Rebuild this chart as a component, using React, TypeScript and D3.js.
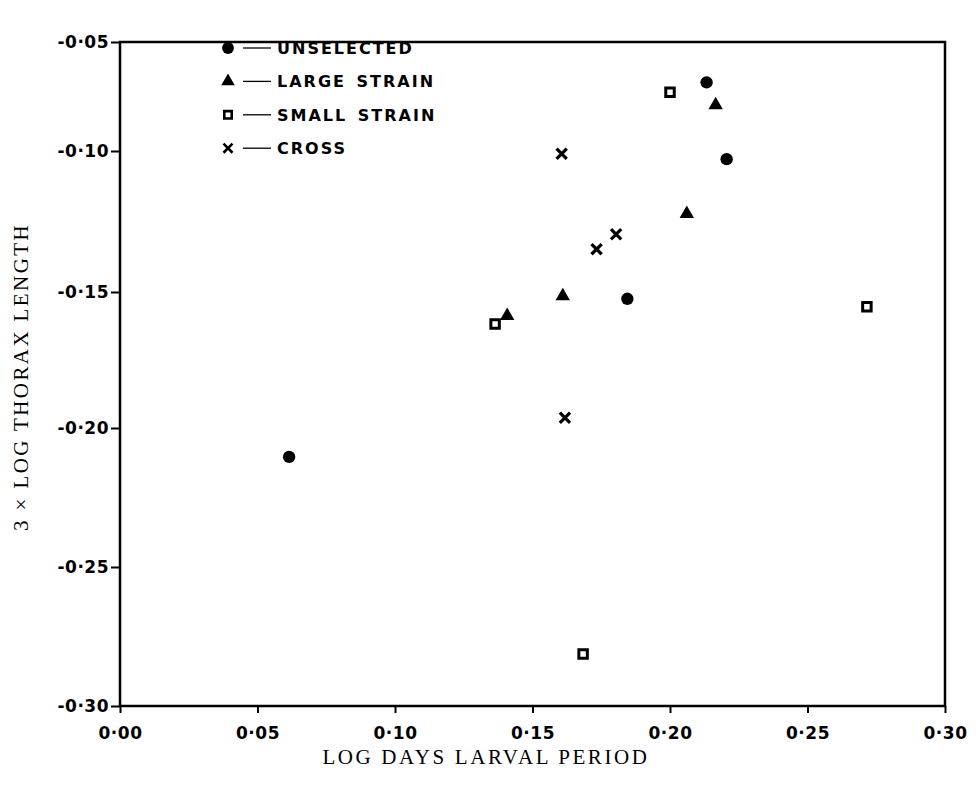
import React, { useEffect, useRef } from "react";
import * as d3 from "d3";

// values
const unselected = [
  { x: 0.2133, y: -0.0685 },
  { x: 0.2206, y: -0.1029 },
  { x: 0.1845, y: -0.1525 },
  { x: 0.0615, y: -0.2104 },
];
const largeStrain = [
  { x: 0.2166, y: -0.0789 },
  { x: 0.2061, y: -0.1223 },
  { x: 0.161, y: -0.1515 },
  { x: 0.1408, y: -0.1588 },
];
const smallStrain = [
  { x: 0.2, y: -0.0731 },
  { x: 0.1364, y: -0.1618 },
  { x: 0.2716, y: -0.1554 },
  { x: 0.1684, y: -0.2813 },
];
const cross = [
  { x: 0.1606, y: -0.101 },
  { x: 0.1804, y: -0.1295 },
  { x: 0.1733, y: -0.1348 },
  { x: 0.1618, y: -0.1962 },
];

const xTicks = [0, 0.05, 0.1, 0.15, 0.2, 0.25, 0.3];
const yTicks = [-0.3, -0.25, -0.2, -0.15, -0.1, -0.05];
const legendLabels = ["UNSELECTED", "LARGE STRAIN", "SMALL STRAIN", "CROSS"];

var width = 979;
var height = 790;
var left = 120;
var right = 945;
var top = 42;
var bottom = 706;

var tickFont = "'DejaVu Sans', sans-serif";
var titleFont = "'Liberation Serif', 'Times New Roman', serif";

const fmt = (d: number) => d.toFixed(2).replace(".", "·");

export default function App() {
  const ref = useRef<SVGSVGElement>(null);

  useEffect(() => {
    const svg = d3.select(ref.current);
    svg.selectAll("*").remove();

    const xScale = d3.scaleLinear().domain([0, 0.3]).range([left, right]);
    // the printed axis is slightly compressed in its top interval
    const yScale = d3
      .scaleLinear()
      .domain([-0.3, -0.25, -0.2, -0.15, -0.1, -0.05])
      .range([bottom, 567, 428, 292, 151, top]);

    /* frame */
    svg
      .append("rect")
      .attr("x", left)
      .attr("y", top)
      .attr("width", right - left)
      .attr("height", bottom - top)
      .attr("fill", "none")
      .attr("stroke", "#000")
      .attr("stroke-width", 2.5);

    /* axes */
    const xAxis = d3
      .axisBottom(xScale)
      .tickValues(xTicks)
      .tickSize(7)
      .tickPadding(14)
      .tickFormat((d) => fmt(+d));
    const yAxis = d3
      .axisLeft(yScale)
      .tickValues(yTicks)
      .tickSize(9)
      .tickPadding(2)
      .tickFormat((d) => fmt(+d));

    const gx = svg
      .append("g")
      .attr("transform", `translate(0, ${bottom})`)
      .call(xAxis);
    const gy = svg.append("g").attr("transform", `translate(${left}, 0)`).call(yAxis);

    [gx, gy].forEach((g) => {
      g.select(".domain").remove();
      g.selectAll("line").attr("stroke", "#000").attr("stroke-width", 2);
      g.selectAll("text")
        .attr("fill", "#000")
        .style("font-family", tickFont)
        .style("font-weight", "bold")
        .style("font-size", "17px")
        .style("letter-spacing", "0.5px");
    });

    /* axis titles */
    svg
      .append("text")
      .attr("x", 486)
      .attr("y", 764)
      .attr("text-anchor", "middle")
      .style("font-family", titleFont)
      .style("font-size", "21px")
      .style("letter-spacing", "2.6px")
      .text("LOG DAYS LARVAL PERIOD");

    svg
      .append("text")
      .attr("transform", "translate(28, 377) rotate(-90)")
      .attr("text-anchor", "middle")
      .style("font-family", titleFont)
      .style("font-size", "21px")
      .style("letter-spacing", "2.4px")
      .text("3 × LOG THORAX LENGTH");

    /* series */
    const series = [
      { data: unselected, type: d3.symbolCircle, size: 120, hollow: false, stroke: false },
      { data: largeStrain, type: d3.symbolTriangle, size: 90, hollow: false, stroke: false },
      { data: smallStrain, type: d3.symbolSquare, size: 72, hollow: true, stroke: false },
      { data: cross, type: d3.symbolX, size: 70, hollow: true, stroke: true },
    ];

    series.forEach((s) => {
      svg
        .append("g")
        .selectAll("path")
        .data(s.data)
        .enter()
        .append("path")
        .attr("transform", (d) => `translate(${xScale(d.x)}, ${yScale(d.y)})`)
        .attr("d", d3.symbol(s.type, s.size)())
        .attr("fill", s.hollow ? (s.stroke ? "none" : "#fff") : "#000")
        .attr("stroke", s.hollow ? "#000" : "none")
        .attr("stroke-width", s.stroke ? 3.2 : 3);
    });

    /* legend */
    const legend = svg.append("g");
    const legendSizes = [110, 80, 55, 55];
    legendLabels.forEach((label, i) => {
      const s = series[i];
      const y = 48 + i * 33.4;
      legend
        .append("path")
        .attr("transform", `translate(228, ${y})`)
        .attr("d", d3.symbol(s.type, legendSizes[i])())
        .attr("fill", s.hollow ? (s.stroke ? "none" : "#fff") : "#000")
        .attr("stroke", s.hollow ? "#000" : "none")
        .attr("stroke-width", 2.6);
      legend
        .append("line")
        .attr("x1", 243)
        .attr("x2", 271)
        .attr("y1", y)
        .attr("y2", y)
        .attr("stroke", "#000")
        .attr("stroke-width", 1.3);
      legend
        .append("text")
        .attr("x", 277)
        .attr("y", y)
        .attr("dy", "0.36em")
        .style("font-family", tickFont)
        .style("font-weight", "bold")
        .style("font-size", "16px")
        .style("letter-spacing", "2px")
        .style("word-spacing", "3px")
        .text(label);
    });
  }, []);

  return (
    <svg
      ref={ref}
      width={width}
      height={height}
      style={{ position: "absolute", left: 0, top: 0, background: "#fff" }}
    ></svg>
  );
}
